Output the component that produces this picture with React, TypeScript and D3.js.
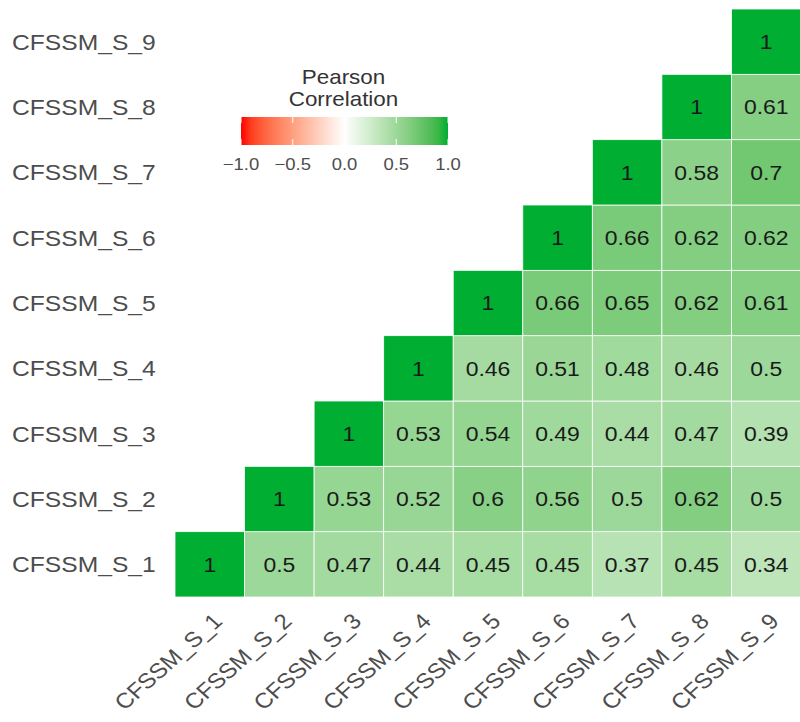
import React, { useEffect, useRef } from 'react';
import * as d3 from 'd3';

const labels = ['CFSSM_S_1', 'CFSSM_S_2', 'CFSSM_S_3', 'CFSSM_S_4', 'CFSSM_S_5', 'CFSSM_S_6', 'CFSSM_S_7', 'CFSSM_S_8', 'CFSSM_S_9'];

// row i holds the values for columns i..9
const row1 = [1, 0.5, 0.47, 0.44, 0.45, 0.45, 0.37, 0.45, 0.34];
const row2 = [1, 0.53, 0.52, 0.6, 0.56, 0.5, 0.62, 0.5];
const row3 = [1, 0.53, 0.54, 0.49, 0.44, 0.47, 0.39];
const row4 = [1, 0.46, 0.51, 0.48, 0.46, 0.5];
const row5 = [1, 0.66, 0.65, 0.62, 0.61];
const row6 = [1, 0.66, 0.62, 0.62];
const row7 = [1, 0.58, 0.7];
const row8 = [1, 0.61];
const row9 = [1];
const rows = [row1, row2, row3, row4, row5, row6, row7, row8, row9];

const legendTicks = [-1, -0.5, 0, 0.5, 1];

// the picture is a bit wider than tall, text is stretched to match
const SX = 1.12;

const App = () => {
  const svgRef = useRef(null);
  const width = 800;
  const height = 722;
  const margin = { top: 9, right: -1, bottom: 125, left: 175 };

  useEffect(() => {
    const svg = d3.select(svgRef.current);
    svg.selectAll('*').remove();

    const x = d3.scaleBand().domain(labels).range([margin.left, width - margin.right]);
    const y = d3.scaleBand().domain(labels).range([height - margin.bottom, margin.top]);

    const toGreen = d3.interpolateLab('#ffffff', '#00ae32');
    const toRed = d3.interpolateLab('#ffffff', '#ff0000');
    const color = (v) => (v >= 0 ? toGreen(v) : toRed(-v));

    const cells = [];
    rows.forEach((vals, i) => {
      vals.forEach((v, k) => cells.push({ r: labels[i], c: labels[i + k], v }));
    });

    const g = svg.append('g');
    g.selectAll('rect')
      .data(cells)
      .join('rect')
      .attr('x', d => x(d.c))
      .attr('y', d => y(d.r))
      .attr('width', x.bandwidth())
      .attr('height', y.bandwidth())
      .attr('fill', d => color(d.v))
      .attr('stroke', '#ffffff')
      .attr('stroke-width', 0.8);

    g.selectAll('text')
      .data(cells)
      .join('text')
      .attr('transform', d => `translate(${x(d.c) + x.bandwidth() / 2},${y(d.r) + y.bandwidth() / 2}) scale(${SX},1)`)
      .attr('dy', '0.36em')
      .attr('text-anchor', 'middle')
      .attr('font-size', 20.5)
      .attr('fill', '#1a1a1a')
      .text(d => String(d.v));

    // y axis labels
    svg.append('g')
      .selectAll('text')
      .data(labels)
      .join('text')
      .attr('transform', d => `translate(12,${y(d) + y.bandwidth() / 2}) scale(${SX},1)`)
      .attr('dy', '0.36em')
      .attr('font-size', 22)
      .attr('fill', '#4d4d4d')
      .text(d => d);

    // x axis labels, rotated
    svg.append('g')
      .selectAll('text')
      .data(labels)
      .join('text')
      .attr('transform', d => `translate(${x(d) + x.bandwidth() / 2 + 2},${height - margin.bottom + 15}) scale(${SX},1) rotate(-45)`)
      .attr('text-anchor', 'end')
      .attr('dy', '0.7em')
      .attr('font-size', 21.5)
      .attr('fill', '#4d4d4d')
      .text(d => d);

    // legend
    const lx = d3.scaleLinear().domain([-1, 1]).range([241, 448]);
    const defs = svg.append('defs');
    const grad = defs.append('linearGradient').attr('id', 'lg');
    d3.range(0, 21).forEach(i => {
      const v = -1 + i * 0.1;
      grad.append('stop').attr('offset', `${(i / 20) * 100}%`).attr('stop-color', color(v));
    });
    const leg = svg.append('g');
    leg.append('rect')
      .attr('x', lx(-1))
      .attr('y', 117)
      .attr('width', lx(1) - lx(-1))
      .attr('height', 28)
      .attr('fill', 'url(#lg)');
    legendTicks.forEach(t => {
      leg.append('line').attr('x1', lx(t)).attr('x2', lx(t)).attr('y1', 117).attr('y2', 123).attr('stroke', '#fff').attr('stroke-width', 1);
      leg.append('line').attr('x1', lx(t)).attr('x2', lx(t)).attr('y1', 139).attr('y2', 145).attr('stroke', '#fff').attr('stroke-width', 1);
    });
    leg.selectAll('text.tick')
      .data(legendTicks)
      .join('text')
      .attr('class', 'tick')
      .attr('transform', d => `translate(${lx(d)},164) scale(${SX},1)`)
      .attr('dy', '0.36em')
      .attr('text-anchor', 'middle')
      .attr('font-size', 16.5)
      .attr('fill', '#4d4d4d')
      .text(d => d3.format('.1f')(d));
    ['Pearson', 'Correlation'].forEach((t, i) => {
      leg.append('text')
        .attr('transform', `translate(${lx(0) - 1},${77 + i * 22}) scale(${SX},1)`)
        .attr('dy', '0.36em')
        .attr('text-anchor', 'middle')
        .attr('font-size', 20)
        .attr('fill', '#333333')
        .text(t);
    });
  }, []);

  return (
    <svg
      ref={svgRef}
      width={width}
      height={height}
      style={{ position: 'absolute', left: 0, top: 0, fontFamily: 'Arial, "Liberation Sans", sans-serif', background: '#fff' }}
    />
  );
};

export default App;
